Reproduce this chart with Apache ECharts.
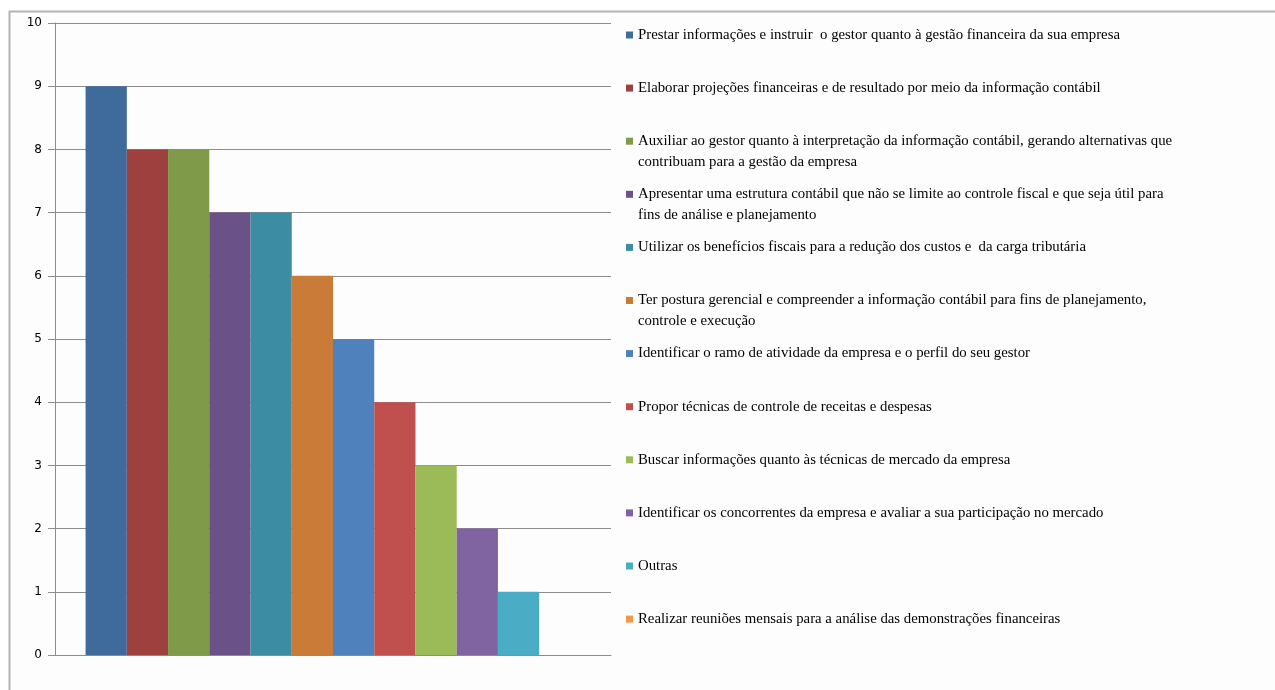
<!DOCTYPE html>
<html>
<head>
<meta charset="utf-8">
<script src="https://cdn.jsdelivr.net/npm/echarts@6/dist/echarts.min.js"></script>
<style>
  html, body { margin: 0; padding: 0; background: #ffffff; }
  #main { width: 1275px; height: 690px; }
</style>
</head>
<body>
<div id="main"></div>
<script>
// nomes das séries (quebras de linha como na legenda original)
let seriesNames = [
    'Prestar informações e instruir  o gestor quanto à gestão financeira da sua empresa',
    'Elaborar projeções financeiras e de resultado por meio da informação contábil',
    'Auxiliar ao gestor quanto à interpretação da informação contábil, gerando alternativas que\ncontribuam para a gestão da empresa',
    'Apresentar uma estrutura contábil que não se limite ao controle fiscal e que seja útil para\nfins de análise e planejamento',
    'Utilizar os benefícios fiscais para a redução dos custos e  da carga tributária',
    'Ter postura gerencial e compreender a informação contábil para fins de planejamento,\ncontrole e execução',
    'Identificar o ramo de atividade da empresa e o perfil do seu gestor',
    'Propor técnicas de controle de receitas e despesas',
    'Buscar informações quanto às técnicas de mercado da empresa',
    'Identificar os concorrentes da empresa e avaliar a sua participação no mercado',
    'Outras',
    'Realizar reuniões mensais para a análise das demonstrações financeiras'
];
let seriesValues = [9, 8, 8, 7, 7, 6, 5, 4, 3, 2, 1, 0];
let seriesColors = [
    '#3F6A9C', '#9E413E', '#7F9A48', '#6A5187', '#3C8DA3', '#CB7B38',
    '#4F81BD', '#C0504D', '#9BBB59', '#8064A2', '#4BACC6', '#F79646'
];
let yTicks = [0, 1, 2, 3, 4, 5, 6, 7, 8, 9, 10];

let myChart = echarts.init(document.getElementById('main'));

// uma legenda por item, para manter o espaçamento fixo do original
let legendStep = 53.1;
let legends = seriesNames.map(function (name, i) {
    let lines = name.split('\n').length;
    let centerY = 35 + i * legendStep;
    return {
        orient: 'vertical',
        left: 626,
        top: centerY - (lines > 1 ? 31.5 : 10.5),
        padding: 0,
        itemWidth: 7,
        itemHeight: 7,
        icon: 'rect',
        selectedMode: false,
        data: [name],
        formatter: function (n) {
            return n.indexOf('\n') >= 0 ? ' \n' + n : n;
        },
        textStyle: {
            fontFamily: 'Liberation Serif',
            fontSize: 14.8,
            lineHeight: 21,
            color: '#000000'
        }
    };
});

let option = {
    backgroundColor: '#ffffff',
    animation: false,
    color: seriesColors,
    graphic: [{
        type: 'rect',
        z: -10,
        shape: { x: 9.5, y: 11.5, width: 1300, height: 700 },
        style: { fill: '#fdfdfd', stroke: '#b4b4b4', lineWidth: 2 }
    }],
    legend: legends,
    grid: {
        left: 55,
        right: 664,
        top: 23,
        bottom: 35
    },
    xAxis: {
        type: 'category',
        data: [''],
        axisLine: { lineStyle: { color: '#8c8c8c' } },
        axisTick: { show: false },
        axisLabel: { show: false }
    },
    yAxis: {
        type: 'value',
        min: yTicks[0],
        max: yTicks[yTicks.length - 1],
        interval: 1,
        axisLine: { show: true, lineStyle: { color: '#8c8c8c' } },
        axisTick: { show: true, length: 7, lineStyle: { color: '#8c8c8c' } },
        splitLine: { lineStyle: { color: '#8c8c8c' } },
        axisLabel: {
            margin: 13,
            fontFamily: 'DejaVu Sans',
            fontSize: 12,
            color: '#000000'
        }
    },
    series: seriesNames.map(function (name, i) {
        return {
            name: name,
            type: 'bar',
            data: [seriesValues[i]],
            barGap: 0,
            barCategoryGap: '11%',
            itemStyle: { color: seriesColors[i] }
        };
    })
};
myChart.setOption(option);
</script>
</body>
</html>
